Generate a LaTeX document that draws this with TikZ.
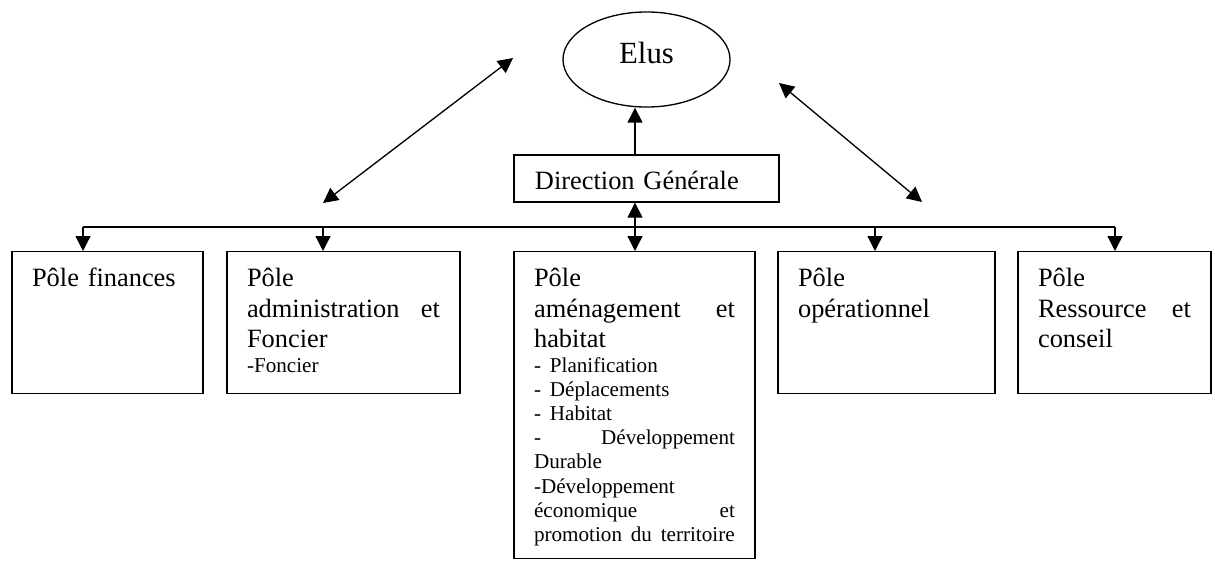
\documentclass[tikz,border=0pt]{standalone}
\usepackage{fontspec}
\setmainfont{Liberation Serif}
\usetikzlibrary{arrows.meta,shapes.geometric}
\tikzset{
  pole/.style={draw, line width=0.6pt, anchor=north, align=left,
               inner xsep=9.1pt, inner ysep=0pt, text height=15.7pt, text depth=48.8pt,
               font=\fontsize{12}{14}\selectfont},
  elu/.style={ellipse, draw, line width=0.6pt, minimum width=75.9pt, minimum height=43.2pt,
              inner sep=0pt, text depth=6pt, font=\fontsize{14}{16}\selectfont},
  direc/.style={draw, line width=0.6pt, align=left, text width=101.4pt, inner xsep=9.5pt,
                inner ysep=0pt, text height=15.5pt, text depth=5.9pt, font=\fontsize{12}{14}\selectfont},
  arr/.style={-{Triangle[length=6.8pt,width=6.8pt]}, line width=0.6pt},
  arrs/.style={{Triangle[length=6.8pt,width=6.8pt]}-{Triangle[length=6.8pt,width=6.8pt]}, line width=0.6pt},
  bus/.style={line width=0.6pt}
}
\newcommand{\sousliste}{\par\fontsize{9.6}{11}\selectfont\hyphenpenalty=10000 }

\begin{document}
\begin{tikzpicture}[x=0.4545pt, y=-0.4545pt]
    \useasboundingbox (0,0) rectangle (1215,560);
    % sommet
    \node[elu] (elus) at (646.5,59.5) {Elus};
    \node[direc] (dg) at (646.5,178.5) {Direction Générale};
    % poles
    \node[pole, text width=68.6pt] (fin) at (107.5,251) {Pôle finances};
    \node[pole, text width=87.7pt] (adm) at (343.5,251) {Pôle\\ administration\hfill et\\ Foncier\sousliste -Foncier\par};
    \node[pole, text width=91.3pt, text depth=123.8pt] (amg) at (634.5,251)
      {Pôle\\ aménagement\hfill et\\ habitat\sousliste - Planification\\ - Déplacements\\ - Habitat\\
       -\hfill Développement\\ Durable\\ -Développement\\ économique\hfill et\\ \mbox{promotion du territoire}\par};
    \node[pole, text width=80.4pt] (ope) at (886.5,251) {Pôle\\ opérationnel};
    \node[pole, text width=69.5pt] (res) at (1114.5,251) {Pôle\\ Ressource\hfill et\\ conseil};
    % points du bus
    \coordinate (b1) at (83,227);
    \coordinate (b2) at (323,227);
    \coordinate (mid) at (635,227);
    \coordinate (b4) at (875,227);
    \coordinate (b5) at (1115,227);
    \draw[arr] (dg.north -| mid) -- (elus.south -| mid);
    \draw[arrs] (dg.south -| mid) -- (amg.north -| mid);
    \draw[bus] (b1) -- (b5);
    \foreach \b/\p in {b1/fin, b2/adm, b4/ope, b5/res}
      \draw[arr] (\b) -- (\b |- \p.north);
    % liens obliques
    \coordinate (gbas) at (323,203);
    \coordinate (ghaut) at (513,58);
    \coordinate (dhaut) at (779,83);
    \coordinate (dbas) at (922,202);
    \draw[arrs] (gbas) -- (ghaut);
    \draw[arrs] (dhaut) -- (dbas);
\end{tikzpicture}
\end{document}
